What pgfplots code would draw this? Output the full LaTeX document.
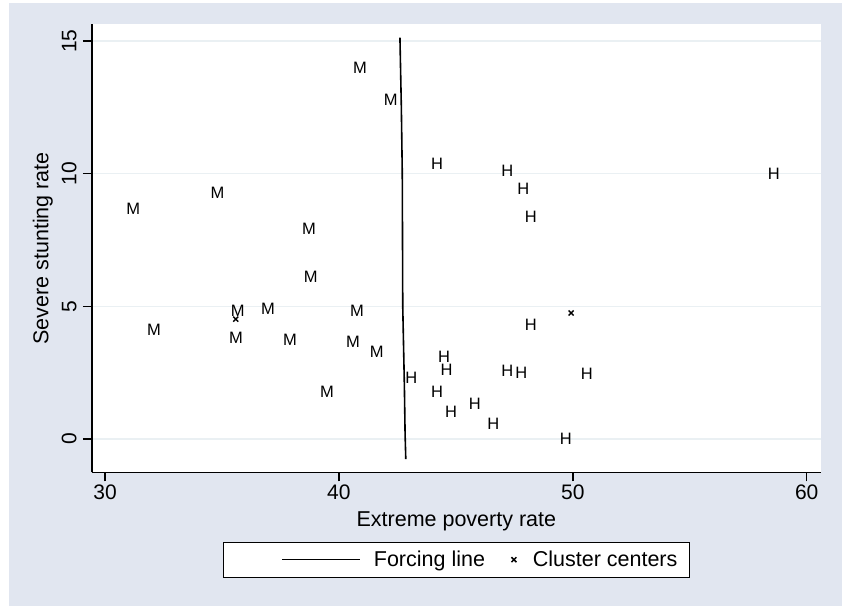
\documentclass[border=0pt]{standalone}
\usepackage{pgfplots}
\pgfplotsset{compat=1.18}
\usepackage{fontspec}
\setmainfont{Liberation Sans}
\definecolor{bgc}{RGB}{225,230,240}
\definecolor{gridc}{RGB}{234,240,243}
\begin{document}
\begin{tikzpicture}
\fill[white] (-92pt,-133.7pt) rectangle (750pt,472.3pt);
\fill[bgc] (-83pt,-133.7pt) rectangle (750pt,469.3pt);
\begin{axis}[
  at={(0,0)}, anchor=south west,
  scale only axis, width=728.7pt, height=448pt,
  xmin=29.444, xmax=60.6, ymin=-1.255, ymax=15.63,
  axis background/.style={fill=white},
  axis x line*=bottom, axis y line*=left,
  axis line style={-, line width=1.3pt, black},
  xtick={30,40,50,60}, ytick={0,5,10,15},
  tick align=outside, major tick length=9pt,
  tick style={line width=1.5pt, black},
  ymajorgrids, major grid style={gridc, line width=1.2pt},
  font=\fontsize{21.5}{25}\selectfont,
  tick label style={font=\fontsize{21}{25}\selectfont},
  /pgf/number format/assume math mode=true,
  yticklabel style={rotate=90, anchor=south, yshift=3pt},
  xlabel={Extreme poverty rate}, ylabel={Severe stunting rate},
  xlabel style={yshift=-5pt},
  ylabel style={yshift=2pt},
  legend columns=2,
  legend style={at={(0.5,-0.155)}, anchor=north, draw=black, line width=0.8pt, fill=white,
    font=\fontsize{21.5}{25}\selectfont, inner xsep=10pt, inner ysep=7pt,
    /tikz/every even column/.append style={column sep=23pt}},
  clip=false,
]
\addplot[black, line width=1.6pt,
  legend image code/.code={\path (0pt,0pt) (137pt,0pt); \draw[black, line width=1.6pt] (48pt,0pt) -- (126pt,0pt);}]
  coordinates {(42.61,15.13) (42.67,12.5) (42.71,10) (42.73,5) (42.80,2) (42.83,0.2) (42.86,-0.76)};
\addlegendentry{Forcing line}
\addplot[only marks, mark=x, mark size=3.5pt, mark options={line width=1.5pt, black},
  legend image code/.code={\path (0pt,0pt) (20pt,0pt); \draw[mark repeat=2,mark phase=2] plot coordinates {(0pt,0pt) (3.5pt,0pt) (7pt,0pt)};}]
  coordinates {(35.59,4.52) (49.93,4.75)};
\addlegendentry{Cluster centers}
\addplot[only marks, mark=text, text mark={M}, text mark as node=true,
  text mark style={font=\fontsize{16.5}{16}\selectfont, inner sep=0pt}, forget plot]
  coordinates {
  (40.90,14.00) (42.22,12.77) (31.21,8.66) (34.81,9.28) (38.72,7.94)
  (38.80,6.12) (35.68,4.82) (36.97,4.90) (40.77,4.82) (32.09,4.12)
  (35.60,3.82) (37.91,3.72) (40.60,3.65) (41.62,3.30) (39.49,1.77)};
\addplot[only marks, mark=text, text mark={H}, text mark as node=true,
  text mark style={font=\fontsize{16.5}{16}\selectfont, inner sep=0pt}, forget plot]
  coordinates {
  (44.20,10.36) (47.20,10.09) (47.89,9.44) (48.21,8.37) (58.60,9.98)
  (48.21,4.32) (44.50,3.10) (44.60,2.62) (43.10,2.30) (47.20,2.56)
  (47.80,2.51) (50.60,2.47) (44.20,1.76) (45.81,1.32) (44.80,1.03)
  (46.60,0.56) (49.70,0.00)};
\end{axis}
\end{tikzpicture}
\end{document}
